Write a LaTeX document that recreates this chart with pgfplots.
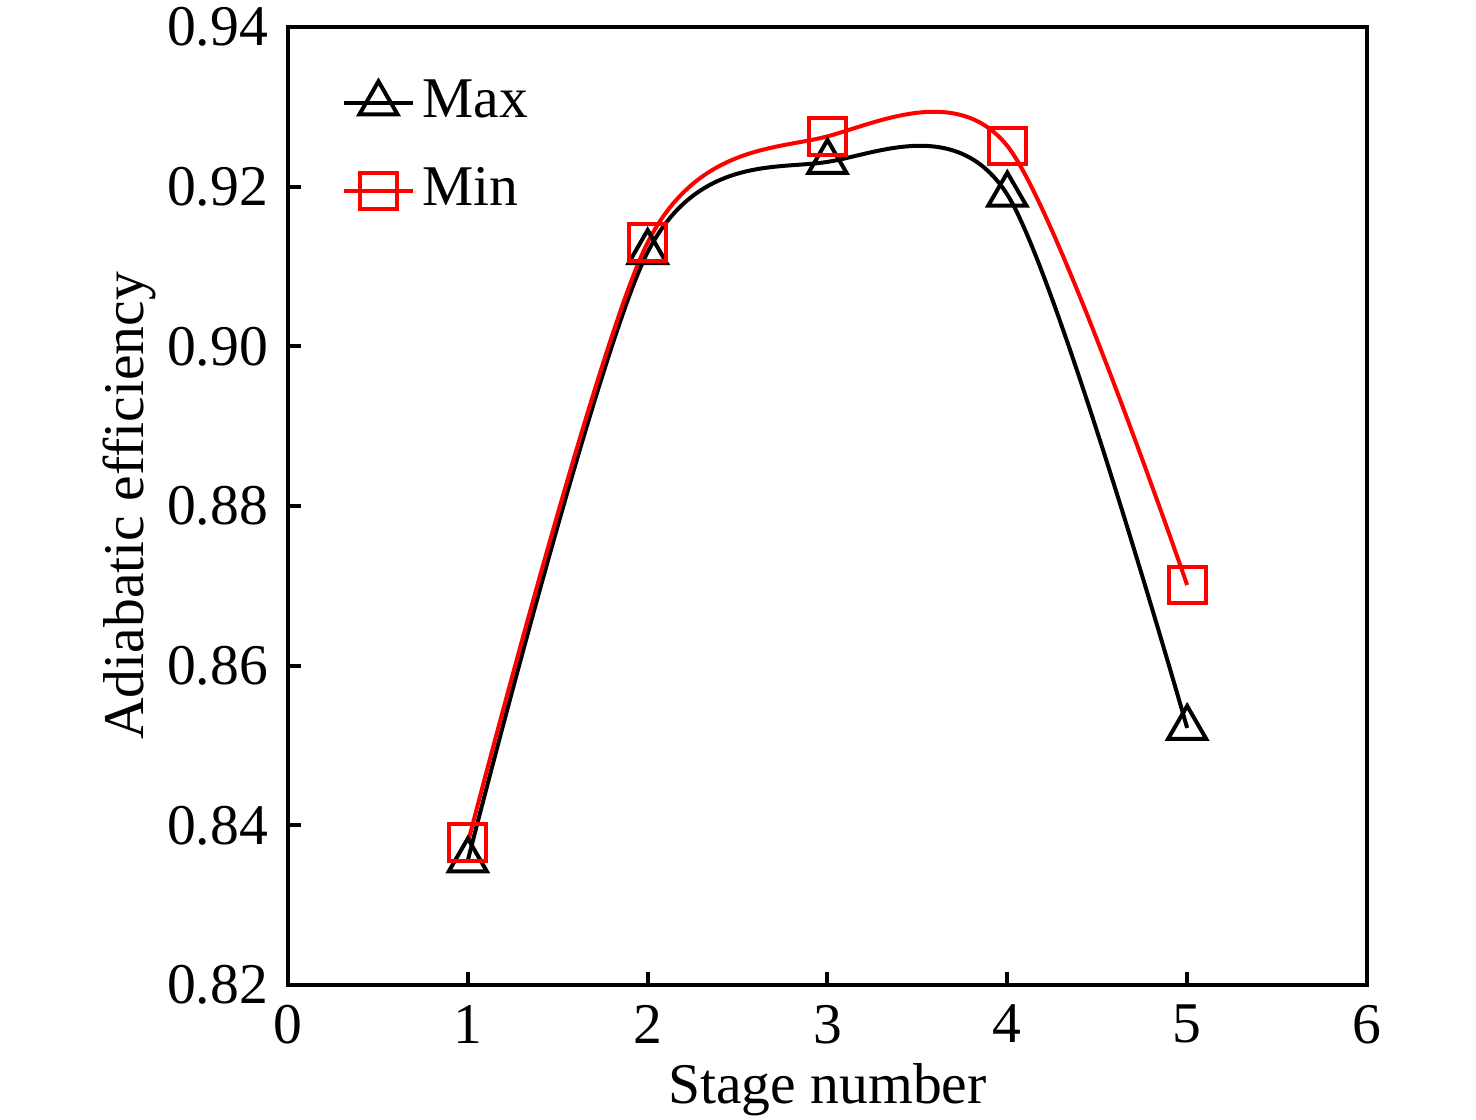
\documentclass[border=0pt]{standalone}
\usepackage{pgfplots}
\pgfplotsset{compat=1.18}
\usepackage{fontspec}
\setmainfont{Liberation Serif}
\begin{document}
\fontsize{14.4}{17}\selectfont
\begin{tikzpicture}
\begin{axis}[
  at={(0,0)}, anchor=south west,
  scale only axis,
  width=269.75pt, height=239.5pt,
  xmin=0, xmax=6, ymin=0.82, ymax=0.94,
  xtick={0,1,2,3,4,5,6},
  ytick={0.82,0.84,0.86,0.88,0.90,0.92,0.94},
  yticklabel style={/pgf/number format/fixed,/pgf/number format/fixed zerofill,/pgf/number format/precision=2},
  /pgf/number format/assume math mode=true,
  tick align=inside, xtick pos=bottom, ytick pos=left,
  major tick length=3.25pt,
  axis line style={line width=1pt},
  every tick/.style={black, line width=1pt},
  xlabel={Stage number}, ylabel={Adiabatic efficiency},
  xlabel style={yshift=5pt},
  ylabel style={yshift=-7pt},
  tick label style={font=\fontsize{14.4}{17}\selectfont},
  label style={font=\fontsize{14.4}{17}\selectfont},
  legend style={at={(0.0385,0.962)}, anchor=north west, draw=none, fill=none,
    font=\fontsize{14.4}{17}\selectfont, row sep=6.25pt},
  legend cell align=left,
]
\addplot[black, line width=1pt, smooth, mark=triangle, mark size=5.5pt, mark options={solid, line width=1pt}]
  coordinates {(1,0.8356) (2,0.9118) (3,0.9231) (4,0.9190) (5,0.8522)};
\addlegendentry{Max}
\addplot[red, line width=1pt, smooth, mark=square, mark size=4.6pt, mark options={solid, line width=1pt}]
  coordinates {(1,0.8378) (2,0.9130) (3,0.9263) (4,0.9251) (5,0.8701)};
\addlegendentry{Min}
\end{axis}
\pgfresetboundingbox
\useasboundingbox (-72pt,-33.75pt) rectangle (297pt,246.25pt);
\end{tikzpicture}
\end{document}
